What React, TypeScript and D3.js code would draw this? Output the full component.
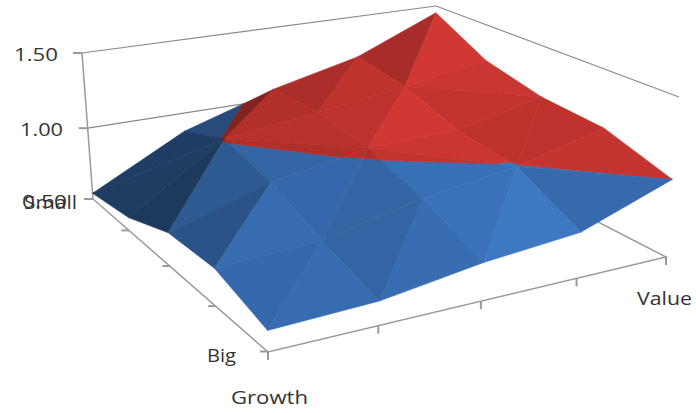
import React from "react";
import * as d3 from "d3";

// Style-box grid: rows run Small to Big, columns run Growth to Value.
const sizeLabels = ["Small", "", "", "", "Big"];
const styleLabels = ["Growth", "", "", "", "Value"];
const levelTicks = [0.5, 1.0, 1.5];
const levelLabels = ["0.50", "1.00", "1.50"];

const rowSmall = [0.54, 0.87, 1.07, 1.21, 1.45];
const row2 = [0.59, 1.01, 1.08, 1.16, 1.25];
const row3 = [0.72, 0.92, 1.03, 1.04, 1.16];
const row4 = [0.74, 0.77, 0.91, 0.995, 1.13];
const rowBig = [0.63, 0.65, 0.74, 0.79, 1.0];
const surface = [rowSmall, row2, row3, row4, rowBig];

// How each grid cell is folded: 1 joins its top-left and bottom-right vertices, 0 the other pair.
const foldRow1 = [1, 0, 0, 0];
const foldRow2 = [0, 1, 0, 1];
const foldRow3 = [0, 0, 1, 0];
const foldRow4 = [0, 0, 0, 1];
const folds = [foldRow1, foldRow2, foldRow3, foldRow4];

const bandEdges = [0.5, 1.0, 1.5];
const bandColors = [
  [58, 113, 184],
  [196, 52, 48],
];

type Pt = [number, number];
type GridPt = { r: number; c: number; z: number };

// Perspective map from the unit square onto a quadrilateral (p0, p1, p2, p3 at (0,0), (1,0), (1,1), (0,1)).
function quadMap(p0: Pt, p1: Pt, p2: Pt, p3: Pt) {
  const dx1 = p1[0] - p2[0];
  const dx2 = p3[0] - p2[0];
  const sx = p0[0] - p1[0] + p2[0] - p3[0];
  const dy1 = p1[1] - p2[1];
  const dy2 = p3[1] - p2[1];
  const sy = p0[1] - p1[1] + p2[1] - p3[1];
  const den = dx1 * dy2 - dx2 * dy1;
  const g = (sx * dy2 - dx2 * sy) / den;
  const h = (dx1 * sy - sx * dy1) / den;
  const a = p1[0] - p0[0] + g * p1[0];
  const b = p3[0] - p0[0] + h * p3[0];
  const d = p1[1] - p0[1] + g * p1[1];
  const e = p3[1] - p0[1] + h * p3[1];
  return (u: number, v: number): Pt => {
    const w = g * u + h * v + 1;
    return [(a * u + b * v + p0[0]) / w, (d * u + e * v + p0[1]) / w];
  };
}

const colScale = d3.scaleLinear().domain([0, 4]).range([0, 1]);
const rowScale = d3.scaleLinear().domain([0, 4]).range([0, 1]);
// The upper half of the box appears slightly taller under perspective.
const heightScale = d3.scaleLinear().domain([0.5, 1.0, 1.5]).range([0, 0.485, 1]);

// Floor and ceiling of the plot box, seen from above the Big/Growth corner.
const floorMap = quadMap([93, 199], [435, 138], [666, 257], [268, 352]);
const ceilMap = quadMap([82, 53], [436, 6], [679, 97], [265, 181]);

function project(r: number, c: number, z: number): Pt {
  const u = colScale(c);
  const v = rowScale(r);
  const f = floorMap(u, v);
  const t = ceilMap(u, v);
  const k = heightScale(z);
  return [f[0] + (t[0] - f[0]) * k, f[1] + (t[1] - f[1]) * k];
}

// Keeps the part of a polygon on one side of a level.
function clipLevel(poly: GridPt[], level: number, keepAbove: boolean): GridPt[] {
  const out: GridPt[] = [];
  const inside = (p: GridPt) => (keepAbove ? p.z >= level : p.z <= level);
  poly.forEach((p, i) => {
    const q = poly[(i + 1) % poly.length];
    if (inside(p)) out.push(p);
    if (inside(p) !== inside(q)) {
      const t = (level - p.z) / (q.z - p.z);
      out.push({ r: p.r + (q.r - p.r) * t, c: p.c + (q.c - p.c) * t, z: level });
    }
  });
  return out;
}

// Facet brightness: faces turned toward Growth or Big darken fast, and the light drifts brighter toward Value.
function facetShade(tri: GridPt[]): number {
  const [a, b, c] = tri;
  const d1 = [b.c - a.c, b.r - a.r, b.z - a.z];
  const d2 = [c.c - a.c, c.r - a.r, c.z - a.z];
  const nx = d1[1] * d2[2] - d1[2] * d2[1];
  const ny = d1[2] * d2[0] - d1[0] * d2[2];
  const nz = d1[0] * d2[1] - d1[1] * d2[0];
  const gx = -nx / nz;
  const gy = -ny / nz;
  const lit = 1 - 0.9 * gx - (gy > 0 ? 0.9 : 0.35) * gy;
  const drift = 0.9 + (0.2 * (a.c + b.c + c.c)) / 12;
  return Math.max(0.5, Math.min(1.2, lit * drift));
}

const cells: { r: number; c: number; tris: GridPt[][] }[] = [];
folds.forEach((row, r) =>
  row.forEach((fold, c) => {
    const v = (i: number, j: number): GridPt => ({ r: i, c: j, z: surface[i][j] });
    const tris = fold
      ? [
          [v(r, c), v(r, c + 1), v(r + 1, c + 1)],
          [v(r, c), v(r + 1, c + 1), v(r + 1, c)],
        ]
      : [
          [v(r, c), v(r, c + 1), v(r + 1, c)],
          [v(r, c + 1), v(r + 1, c + 1), v(r + 1, c)],
        ];
    cells.push({ r, c, tris });
  })
);
// Paint from the far corner (Small/Value) toward the near one (Big/Growth).
cells.sort((a, b) => a.r - a.c - (b.r - b.c));

const facets: { d: string; fill: string; key: string }[] = [];
cells.forEach((cell) =>
  cell.tris.forEach((tri, ti) => {
    const shade = facetShade(tri);
    bandColors.forEach((base, bi) => {
      let poly = clipLevel(tri, bandEdges[bi], true);
      if (poly.length) poly = clipLevel(poly, bandEdges[bi + 1], false);
      if (poly.length < 3) return;
      const path = d3.path();
      poly.forEach((p, i) => {
        const [x, y] = project(p.r, p.c, p.z);
        if (i) path.lineTo(x, y);
        else path.moveTo(x, y);
      });
      path.closePath();
      const col = d3.rgb(base[0] * shade, base[1] * shade, base[2] * shade).formatHex();
      facets.push({ d: path.toString(), fill: col, key: `${cell.r}-${cell.c}-${ti}-${bi}` });
    });
  })
);

const line = d3.line<Pt>();
const ticks = d3.range(0, 5);
const font = "'Open Sans', sans-serif";

export default function App() {
  const ceilCorner = project(0, 4, 1.5);
  const wallEnd = project(4, 4, 1.5);
  const ceilLeft = project(0, 0, 1.5);
  const midLeft = project(0, 0, 1.0);
  const midBack = project(0, 4, 1.0);
  const floorLeft = project(0, 0, 0.5);
  const floorFront = project(4, 0, 0.5);
  const floorRight = project(4, 4, 0.5);
  const floorBack = project(0, 4, 0.5);
  const axis = "#9a9a9a";
  const labelLengths = [45, 43, 44];
  const labelEnds = [67, 63, 58];

  return (
    <svg width={696} height={413} style={{ position: "absolute", left: 0, top: 0, background: "#fff" }}>
      {/* Wall gridlines */}
      <path d={line([ceilLeft, ceilCorner, wallEnd]) ?? ""} fill="none" stroke="#8a8a8a" strokeWidth={1.2} />
      <path d={line([midLeft, midBack]) ?? ""} fill="none" stroke="#8a8a8a" strokeWidth={1.2} />

      {/* Axis frame */}
      <path d={line([ceilLeft, floorLeft, floorFront, floorRight, floorBack]) ?? ""} fill="none" stroke={axis} strokeWidth={1.5} />
      {levelTicks.map((z) => {
        const [x, y] = project(0, 0, z);
        return <line key={z} x1={x - 9} y1={y} x2={x} y2={y} stroke={axis} strokeWidth={2} />;
      })}
      {ticks.slice(1).map((r) => {
        const [x, y] = project(r, 0, 0.5);
        return <line key={r} x1={x - 8} y1={y - 0.5} x2={x} y2={y - 0.5} stroke={axis} strokeWidth={2} />;
      })}
      {ticks.map((c) => {
        const [x, y] = project(4, c, 0.5);
        return <line key={c} x1={x} y1={y} x2={x} y2={y + 8} stroke={axis} strokeWidth={2} />;
      })}

      {/* Surface facets, split into value bands */}
      {facets.map((f) => (
        <path key={f.key} d={f.d} fill={f.fill} stroke={f.fill} strokeWidth={0.6} strokeLinejoin="round" />
      ))}

      {/* Labels */}
      <g fontFamily={font} fontSize={19} fill="#333" lengthAdjust="spacingAndGlyphs">
        {levelLabels.map((t, i) => {
          const [, y] = project(0, 0, levelTicks[i]);
          return (
            <text key={t} x={labelEnds[i]} y={y + (i === 0 ? 9 : 8)} textAnchor="end" textLength={labelLengths[i]} lengthAdjust="spacingAndGlyphs">
              {t}
            </text>
          );
        })}
        <text x={77} y={209} textAnchor="end" textLength={53} lengthAdjust="spacingAndGlyphs">{sizeLabels[0]}</text>
        <text x={236} y={362} textAnchor="end" textLength={29} lengthAdjust="spacingAndGlyphs">{sizeLabels[4]}</text>
        <text x={231} y={404} textLength={77} lengthAdjust="spacingAndGlyphs">{styleLabels[0]}</text>
        <text x={637} y={305} textLength={55} lengthAdjust="spacingAndGlyphs">{styleLabels[4]}</text>
      </g>
    </svg>
  );
}
